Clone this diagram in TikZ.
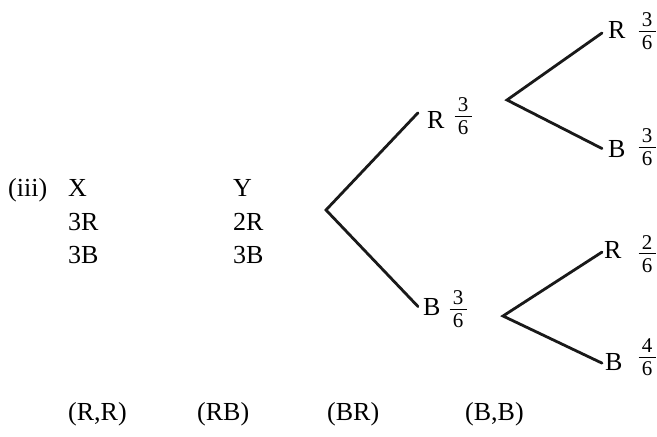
\documentclass[tikz,border=0pt]{standalone}
\usepackage{fontspec}
\setmainfont{Liberation Serif}
\newcommand\pfr[2]{{\fontsize{21}{21}\selectfont\vbox{\hbox to 17pt{\hfil #1\hfil}\kern4pt\hrule height 1pt\kern4pt\hbox to 17pt{\hfil #2\hfil}}}}
\begin{document}
\begin{tikzpicture}[x=1pt,y=-1pt,
  txt/.style={font=\fontsize{26}{26}\selectfont, inner sep=0pt, anchor=base west},
  frc/.style={inner sep=0pt},
  branch/.style={line width=2.8pt, line cap=round, draw=black!90}]
\useasboundingbox (0,0) rectangle (657,437);
% left block
\node[txt] (iii) at (8,196) {(iii)};
\node[txt] (X) at (68,196) {X};
\node[txt] (XR) at (68,230) {3R};
\node[txt] (XB) at (68,263) {3B};
\node[txt] (Y) at (233,196) {Y};
\node[txt] (YR) at (233,230) {2R};
\node[txt] (YB) at (233,263) {3B};
% bottom row
\node[txt] (rr) at (68,420) {(R,R)};
\node[txt] (rb) at (197,420) {(RB)};
\node[txt] (br) at (327,420) {(BR)};
\node[txt] (bb) at (465,420) {(B,B)};
% tree
\coordinate (root) at (326,210);
\node[txt] (R1) at (427,128) {R};
\node[frc] (R1f) at (463,116) {\pfr36};
\node[txt] (B1) at (423,315) {B};
\node[frc] (B1f) at (458,309.5) {\pfr36};
\coordinate (v1) at (507,100);
\coordinate (v2) at (503,316);
\node[txt] (R11) at (608,38) {R};
\node[frc] (R11f) at (647,31.5) {\pfr36};
\node[txt] (B12) at (608,157) {B};
\node[frc] (B12f) at (647,147.5) {\pfr36};
\node[txt] (R21) at (604,258) {R};
\node[frc] (R21f) at (647,254) {\pfr26};
\node[txt] (B22) at (605,370) {B};
\node[frc] (B22f) at (647,357.5) {\pfr46};
\draw[branch] ([xshift=-9pt,yshift=-2pt]R1.north west) -- (root) -- ([xshift=-5pt]B1.west);
\draw[branch] ([xshift=-6pt,yshift=-3.5pt]R11.west) -- (v1) -- ([xshift=-6pt]B12.west);
\draw[branch] ([xshift=-2pt,yshift=-2.6pt]R21.west) -- (v2) -- ([xshift=-3pt,yshift=-1.6pt]B22.west);
\end{tikzpicture}
\end{document}
